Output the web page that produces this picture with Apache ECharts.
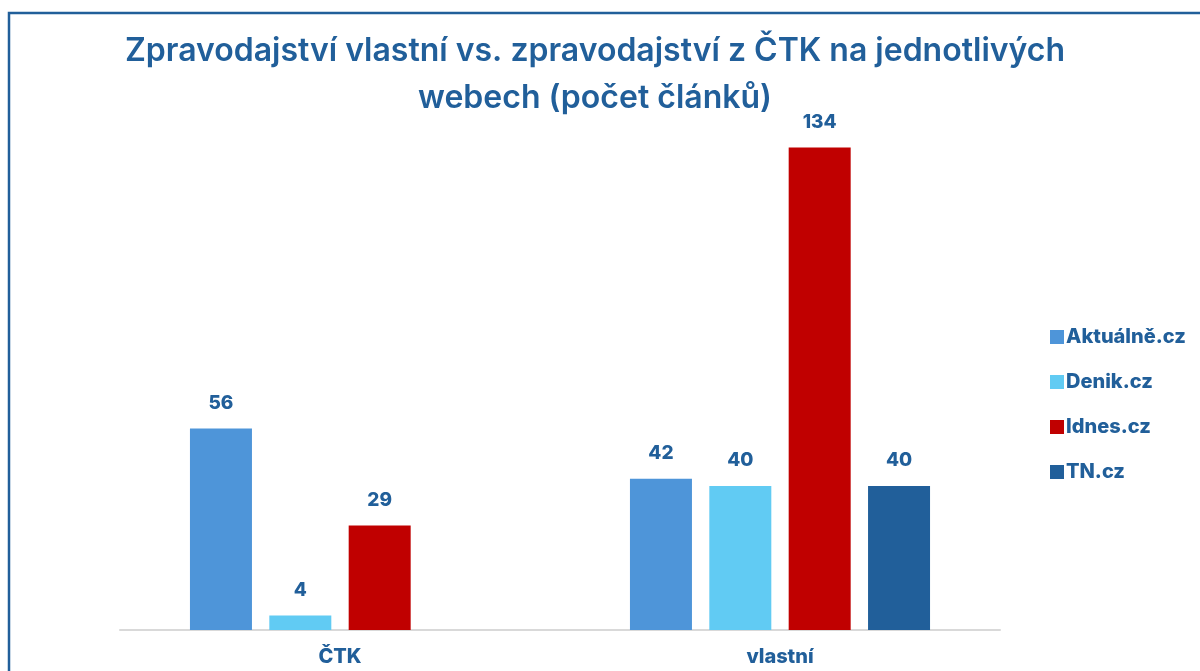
<!DOCTYPE html>
<html>
<head>
<meta charset="utf-8">
<script src="https://cdn.jsdelivr.net/npm/echarts@6/dist/echarts.min.js"></script>
<style>
  html, body { margin: 0; padding: 0; background: #fff; }
  #main { width: 1200px; height: 671px; }
</style>
</head>
<body>
<div id="main"></div>
<script>
// kategorie a hodnoty
const categories = ['ČTK', 'vlastní'];
const aktualne = [56, 42];
const denik = [4, 40];
const idnes = [29, 134];
const tn = [null, 40];
const seriesNames = ['Aktuálně.cz', 'Denik.cz', 'Idnes.cz', 'TN.cz'];

const textBlue = '#215F9A';
const font = 'Inter, "Noto Sans", "DejaVu Sans", sans-serif';

const myChart = echarts.init(document.getElementById('main'));

function makeSeries(name, data, color) {
  return {
    name: name,
    type: 'bar',
    data: data,
    barWidth: 62,
    barGap: '28%',
    itemStyle: { color: color },
    label: {
      show: true,
      position: 'top',
      distance: 16,
      color: textBlue,
      fontFamily: font,
      fontWeight: 800,
      fontSize: 19
    }
  };
}

const option = {
  backgroundColor: '#fff',
  title: {
    text: 'Zpravodajství vlastní vs. zpravodajství z ČTK na jednotlivých\nwebech (počet článků)',
    left: 590,
    top: 23,
    textAlign: 'center',
    textStyle: {
      color: textBlue,
      fontFamily: font,
      fontWeight: 600,
      fontSize: 32,
      lineHeight: 47
    }
  },
  graphic: [{
    type: 'rect',
    shape: { x: 9, y: 13, width: 1400, height: 900 },
    style: { fill: 'none', stroke: textBlue, lineWidth: 2.5 }
  }],
  legend: {
    orient: 'vertical',
    left: 1045,
    top: 322,
    itemWidth: 14,
    itemHeight: 14,
    itemGap: 25,
    icon: 'rect',
    data: seriesNames,
    textStyle: {
      color: textBlue,
      fontFamily: font,
      fontWeight: 800,
      fontSize: 20,
      padding: [0, 0, 0, -3]
    }
  },
  grid: { left: 120, right: 200, top: 90, bottom: 41 },
  xAxis: {
    type: 'category',
    data: categories,
    axisLine: { lineStyle: { color: '#d9d9d9', width: 2 } },
    axisTick: { show: false },
    axisLabel: {
      color: textBlue,
      fontFamily: font,
      fontWeight: 800,
      fontSize: 20,
      margin: 17
    }
  },
  yAxis: {
    type: 'value',
    min: 0,
    max: 150,
    show: false,
    splitLine: { show: false }
  },
  series: [
    makeSeries(seriesNames[0], aktualne, '#4E95D9'),
    makeSeries(seriesNames[1], denik, '#61CBF3'),
    makeSeries(seriesNames[2], idnes, '#C00000'),
    makeSeries(seriesNames[3], tn, '#215F9A')
  ]
};
myChart.setOption(option);
</script>
</body>
</html>
